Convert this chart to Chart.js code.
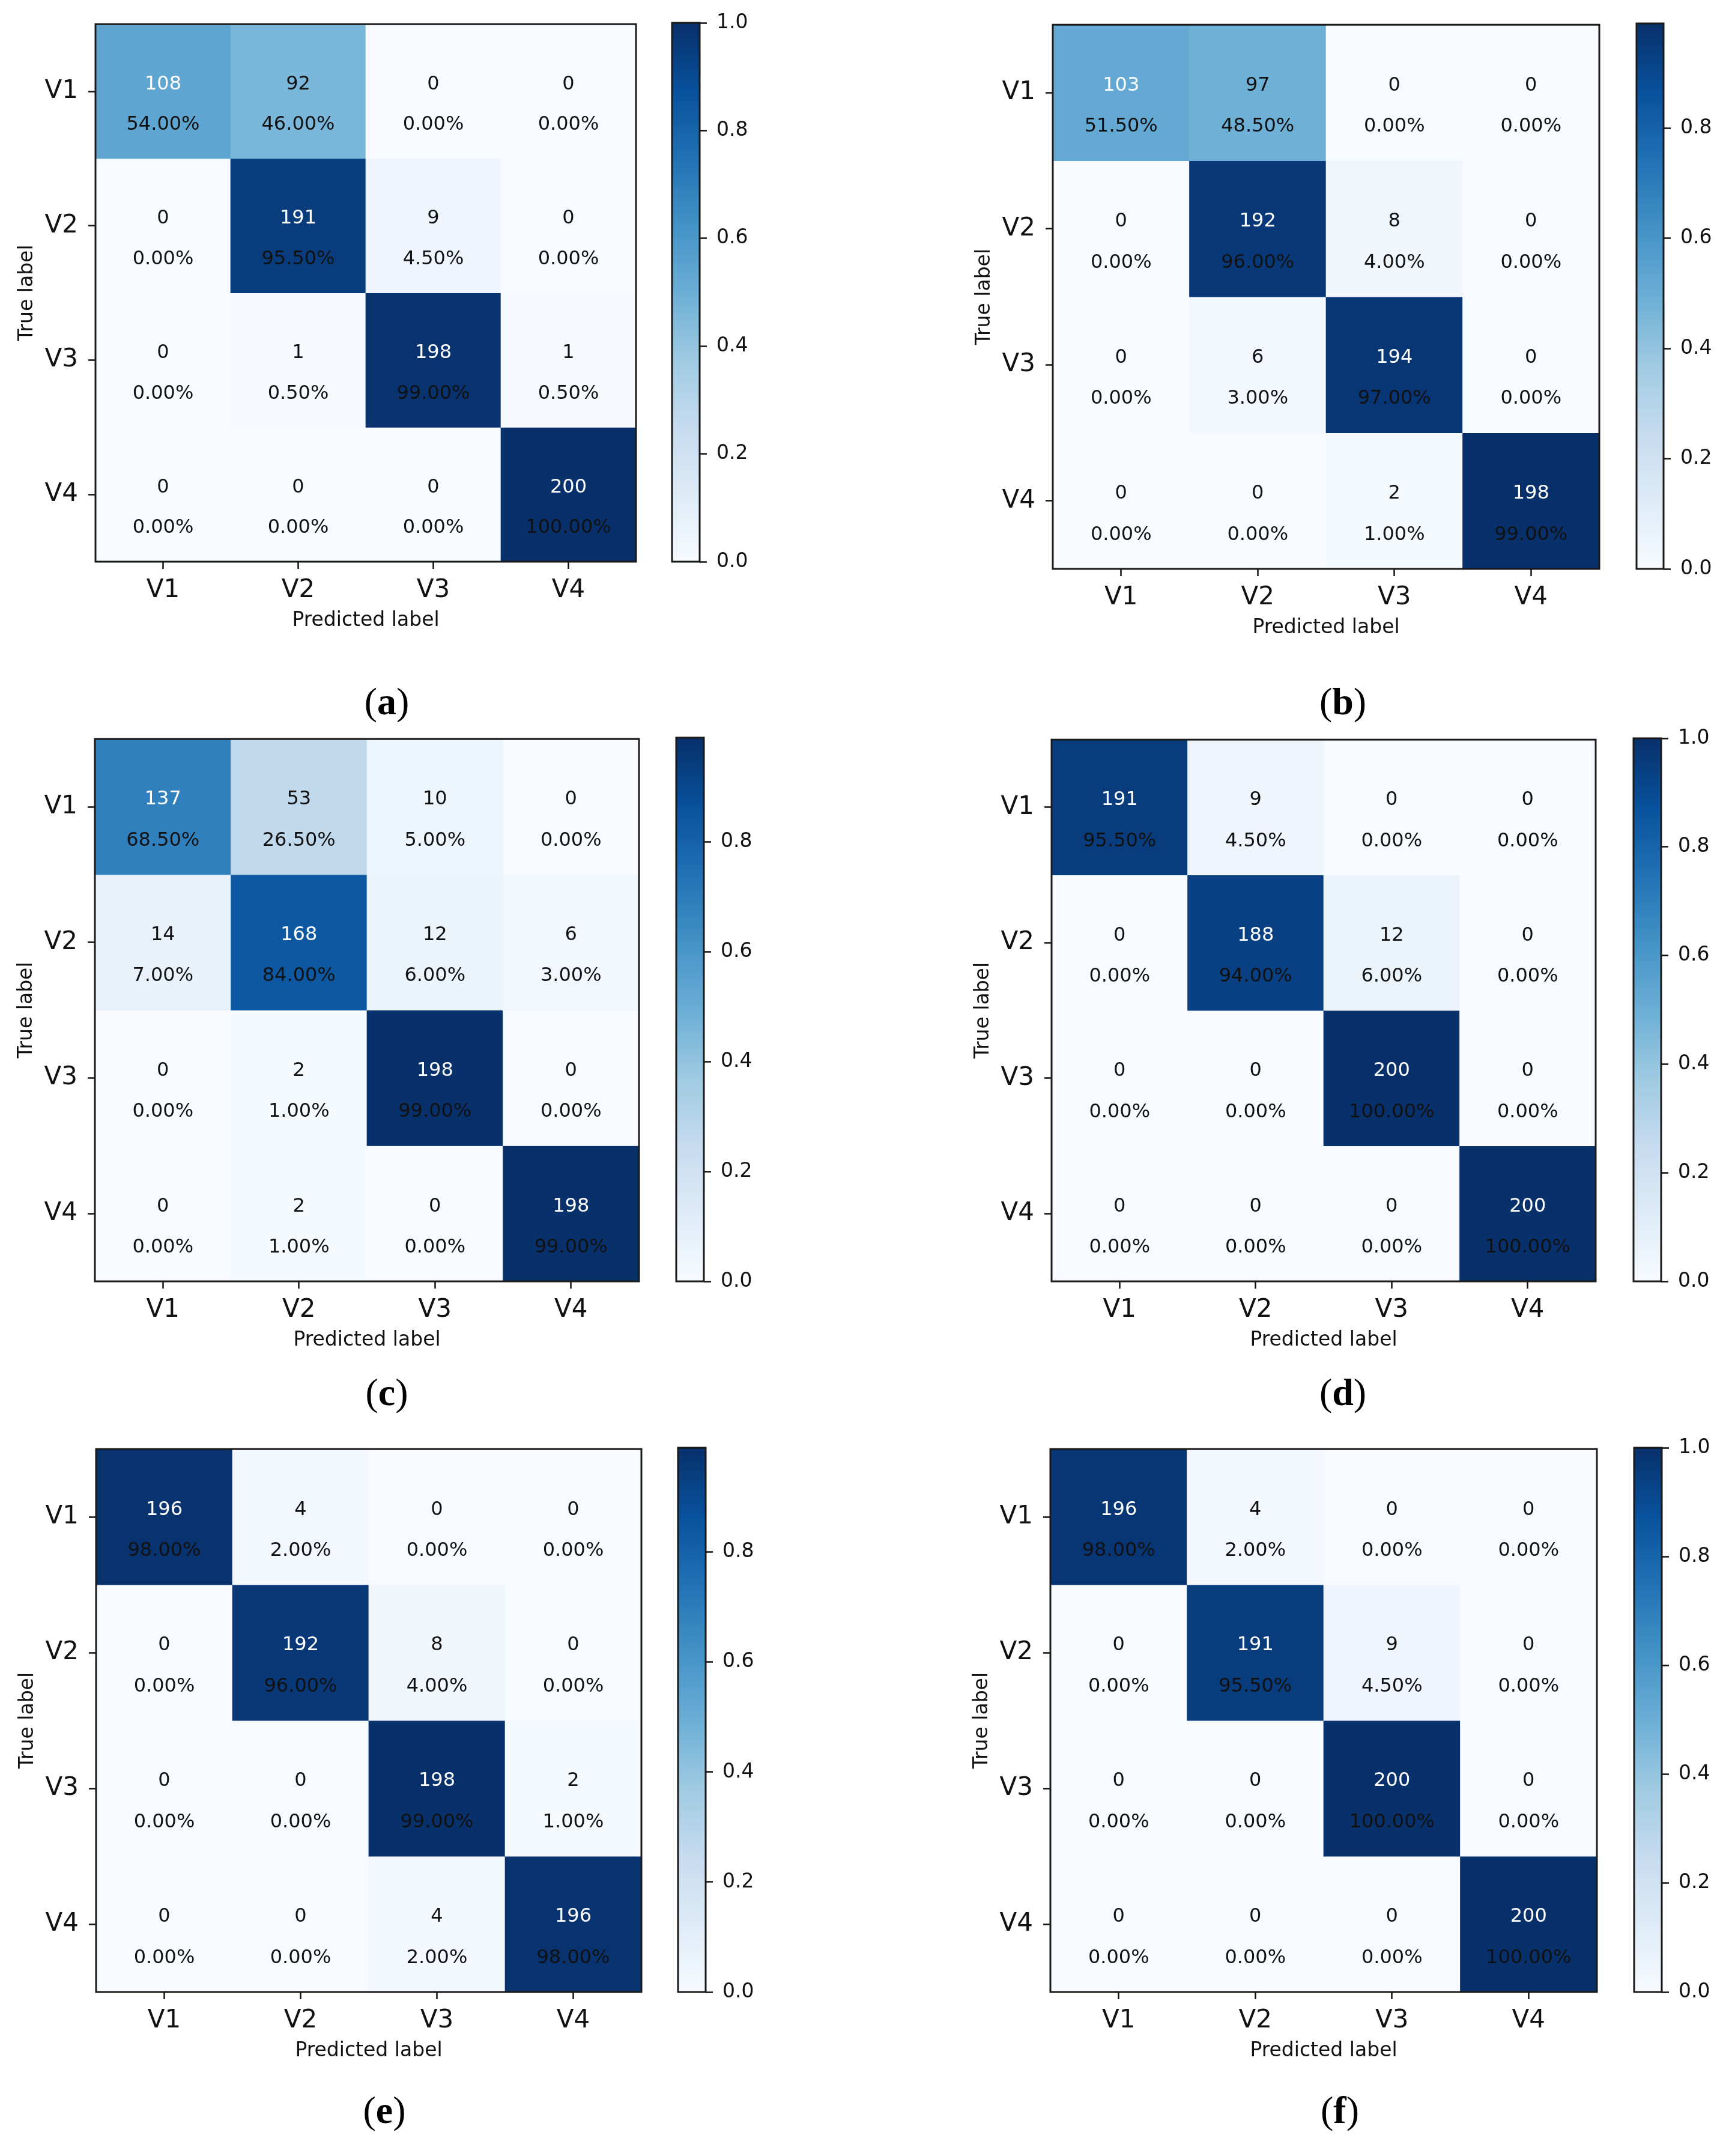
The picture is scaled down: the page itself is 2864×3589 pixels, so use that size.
<!DOCTYPE html>
<html>
<head>
<meta charset="utf-8">
<title>Confusion matrices</title>
<script src="https://cdn.jsdelivr.net/npm/chart.js@4.4.1/dist/chart.umd.min.js"></script>
<style>
  html, body { margin: 0; padding: 0; background: #fff; }
  #page { position: relative; width: 2864px; height: 3589px; overflow: hidden; background: #fff; }
  canvas { position: absolute; }
  .caption {
    position: absolute; transform: translate(-50%, -50%);
    font-family: "Liberation Serif", serif; font-size: 64px; color: #000; white-space: nowrap;
  }
</style>
</head>
<body>
<div id="page"></div>
<script>
// ================= DATA =================

const classLabels = ["V1", "V2", "V3", "V4"];

// rows = true label, columns = predicted label
const countsA = [[108, 92, 0, 0], [0, 191, 9, 0], [0, 1, 198, 1], [0, 0, 0, 200]];
const countsB = [[103, 97, 0, 0], [0, 192, 8, 0], [0, 6, 194, 0], [0, 0, 2, 198]];
const countsC = [[137, 53, 10, 0], [14, 168, 12, 6], [0, 2, 198, 0], [0, 2, 0, 198]];
const countsD = [[191, 9, 0, 0], [0, 188, 12, 0], [0, 0, 200, 0], [0, 0, 0, 200]];
const countsE = [[196, 4, 0, 0], [0, 192, 8, 0], [0, 0, 198, 2], [0, 0, 4, 196]];
const countsF = [[196, 4, 0, 0], [0, 191, 9, 0], [0, 0, 200, 0], [0, 0, 0, 200]];

const colorbarTicks = [0.0, 0.2, 0.4, 0.6, 0.8, 1.0];
const panelLetters = ["a", "b", "c", "d", "e", "f"];

// ================= LAYOUT =================

// plot box [left, top, width, height], colorbar [left, width], caption centre [x, y]
const panelLayout = [
  { counts: countsA, plot: [159, 38, 900, 897], cbar: [1119, 46], cap: [644, 1168] },
  { counts: countsB, plot: [1753, 39, 910, 908], cbar: [2725, 45], cap: [2236, 1168] },
  { counts: countsC, plot: [158, 1228, 906, 905], cbar: [1126, 46], cap: [644, 2318] },
  { counts: countsD, plot: [1751, 1229, 906, 904], cbar: [2720, 46], cap: [2236, 2318] },
  { counts: countsE, plot: [160, 2410, 908, 906], cbar: [1129, 46], cap: [640, 3513] },
  { counts: countsF, plot: [1749, 2410, 910, 906], cbar: [2721, 46], cap: [2231, 3513] }
];

const FONT = "DejaVu Sans";
const INK = "#111";

// matplotlib "Blues"
const bluesStops = ["#f7fbff", "#deebf7", "#c6dbef", "#9ecae1", "#6baed6", "#4292c6", "#2171b5", "#08519c", "#08306b"];

function hexToRgb(h) {
  return [parseInt(h.slice(1, 3), 16), parseInt(h.slice(3, 5), 16), parseInt(h.slice(5, 7), 16)];
}

function blues(t) {
  t = Math.max(0, Math.min(1, t));
  const pos = t * (bluesStops.length - 1);
  const i = Math.min(Math.floor(pos), bluesStops.length - 2);
  const f = pos - i;
  const a = hexToRgb(bluesStops[i]);
  const b = hexToRgb(bluesStops[i + 1]);
  const c = a.map((v, k) => Math.round(v + (b[k] - v) * f));
  return "rgb(" + c.join(",") + ")";
}

function makeCanvas(left, top, width, height) {
  const c = document.createElement("canvas");
  c.width = width;
  c.height = height;
  c.style.left = left + "px";
  c.style.top = top + "px";
  c.style.width = width + "px";
  c.style.height = height + "px";
  document.getElementById("page").appendChild(c);
  return c;
}

// ================= PLUGINS =================

const frame = {
  id: "frame",
  afterDraw(chart) {
    const a = chart.chartArea;
    const ctx = chart.ctx;
    ctx.save();
    ctx.strokeStyle = "#1a1a1a";
    ctx.lineWidth = 3;
    ctx.strokeRect(a.left, a.top, a.right - a.left, a.bottom - a.top);
    ctx.restore();
  }
};

const cellText = {
  id: "cellText",
  afterDatasetsDraw(chart, args, opts) {
    const ctx = chart.ctx;
    const xs = chart.scales.x;
    const ys = chart.scales.y;
    const cellH = Math.abs(ys.getPixelForValue(1) - ys.getPixelForValue(0));
    ctx.save();
    ctx.font = "32px '" + FONT + "'";
    ctx.textAlign = "center";
    ctx.textBaseline = "middle";
    opts.counts.forEach((row, i) => {
      row.forEach((n, j) => {
        const x = xs.getPixelForValue(j);
        const y = ys.getPixelForValue(i + 0.5);
        const f = opts.frac[i][j];
        ctx.fillStyle = f / opts.vmax >= 0.5 ? "#ffffff" : INK;
        ctx.fillText(String(n), x, y - cellH * 0.053);
        ctx.fillStyle = INK;
        ctx.fillText((f * 100).toFixed(2) + "%", x, y + cellH * 0.25);
      });
    });
    ctx.restore();
  }
};

// ================= CHARTS =================

function drawMatrix(counts, plot) {
  const [l, t, w, h] = plot;
  const rowSums = counts.map(r => r.reduce((a, b) => a + b, 0));
  const frac = counts.map((r, i) => r.map(v => v / rowSums[i]));
  const vmax = Math.max(...frac.flat());

  const YW = 170, XH = 140, PT = 40, PR = 40;
  const canvas = makeCanvas(l - YW, t - PT, YW + w + PR, PT + h + XH);

  const datasets = counts.map((row, i) => ({
    label: classLabels[i],
    data: row.map(() => [i, i + 1]),
    backgroundColor: frac[i].map(f => blues(f / vmax)),
    borderWidth: 0,
    barPercentage: 1,
    categoryPercentage: 1,
    grouped: false
  }));

  new Chart(canvas, {
    type: "bar",
    data: { labels: classLabels, datasets: datasets },
    options: {
      responsive: false,
      animation: false,
      devicePixelRatio: 1,
      layout: { padding: { left: 0, top: PT, right: PR, bottom: 0 } },
      plugins: {
        legend: { display: false },
        tooltip: { enabled: false },
        cellText: { counts: counts, frac: frac, vmax: vmax }
      },
      scales: {
        x: {
          type: "category",
          offset: true,
          grid: { display: true, drawOnChartArea: false, offset: false, tickLength: 12, tickWidth: 2.5, tickColor: INK },
          border: { display: false },
          ticks: { font: { family: FONT, size: 42 }, color: INK, padding: 11, maxRotation: 0 },
          title: { display: true, text: "Predicted label", font: { family: FONT, size: 33 }, color: INK, padding: { top: 0, bottom: 22 } },
          afterFit: s => { s.height = XH; }
        },
        y: {
          type: "linear",
          min: 0,
          max: classLabels.length,
          reverse: true,
          afterBuildTicks: s => { s.ticks = classLabels.map((_, i) => ({ value: i + 0.5 })); },
          grid: { display: true, drawOnChartArea: false, tickLength: 12, tickWidth: 2.5, tickColor: INK },
          border: { display: false },
          ticks: {
            font: { family: FONT, size: 42 }, color: INK, padding: 17,
            callback: v => classLabels[Math.floor(v)]
          },
          title: { display: true, text: "True label", font: { family: FONT, size: 33 }, color: INK, padding: { top: 37, bottom: 0 } },
          afterFit: s => { s.width = YW; }
        }
      }
    },
    plugins: [cellText, frame]
  });

  return vmax;
}

function drawColorbar(vmax, plot, cbar) {
  const [, t, , h] = plot;
  const [cl, cw] = cbar;
  const PL = 10, PT = 40, PB = 40, YW = 130;
  const canvas = makeCanvas(cl - PL, t - PT, PL + cw + YW, PT + h + PB);

  new Chart(canvas, {
    type: "bar",
    data: {
      labels: ["colorbar"],
      datasets: [{
        data: [[0, vmax]],
        barPercentage: 1,
        categoryPercentage: 1,
        borderWidth: 0,
        backgroundColor: ctx => {
          const chart = ctx.chart;
          const ys = chart.scales.y;
          if (!chart.chartArea || !ys) return bluesStops[4];
          const g = chart.ctx.createLinearGradient(0, ys.getPixelForValue(0), 0, ys.getPixelForValue(vmax));
          bluesStops.forEach((c, k) => g.addColorStop(k / (bluesStops.length - 1), c));
          return g;
        }
      }]
    },
    options: {
      responsive: false,
      animation: false,
      devicePixelRatio: 1,
      layout: { padding: { left: PL, top: PT, right: 0, bottom: PB } },
      plugins: { legend: { display: false }, tooltip: { enabled: false } },
      scales: {
        x: { display: false },
        y: {
          position: "right",
          min: 0,
          max: vmax,
          afterBuildTicks: s => {
            s.ticks = colorbarTicks.filter(v => v <= vmax + 1e-9).map(v => ({ value: v }));
          },
          grid: { display: true, drawOnChartArea: false, tickLength: 12, tickWidth: 2.5, tickColor: INK },
          border: { display: false },
          ticks: { font: { family: FONT, size: 33 }, color: INK, padding: 16, callback: v => v.toFixed(1) },
          afterFit: s => { s.width = YW; }
        }
      }
    },
    plugins: [frame]
  });
}

function drawCaption(letter, cap) {
  const d = document.createElement("div");
  d.className = "caption";
  d.style.left = cap[0] + "px";
  d.style.top = cap[1] + "px";
  d.innerHTML = "(<b>" + letter + "</b>)";
  document.getElementById("page").appendChild(d);
}

panelLayout.forEach((p, k) => {
  const vmax = drawMatrix(p.counts, p.plot);
  drawColorbar(vmax, p.plot, p.cbar);
  drawCaption(panelLetters[k], p.cap);
});
</script>
</body>
</html>
